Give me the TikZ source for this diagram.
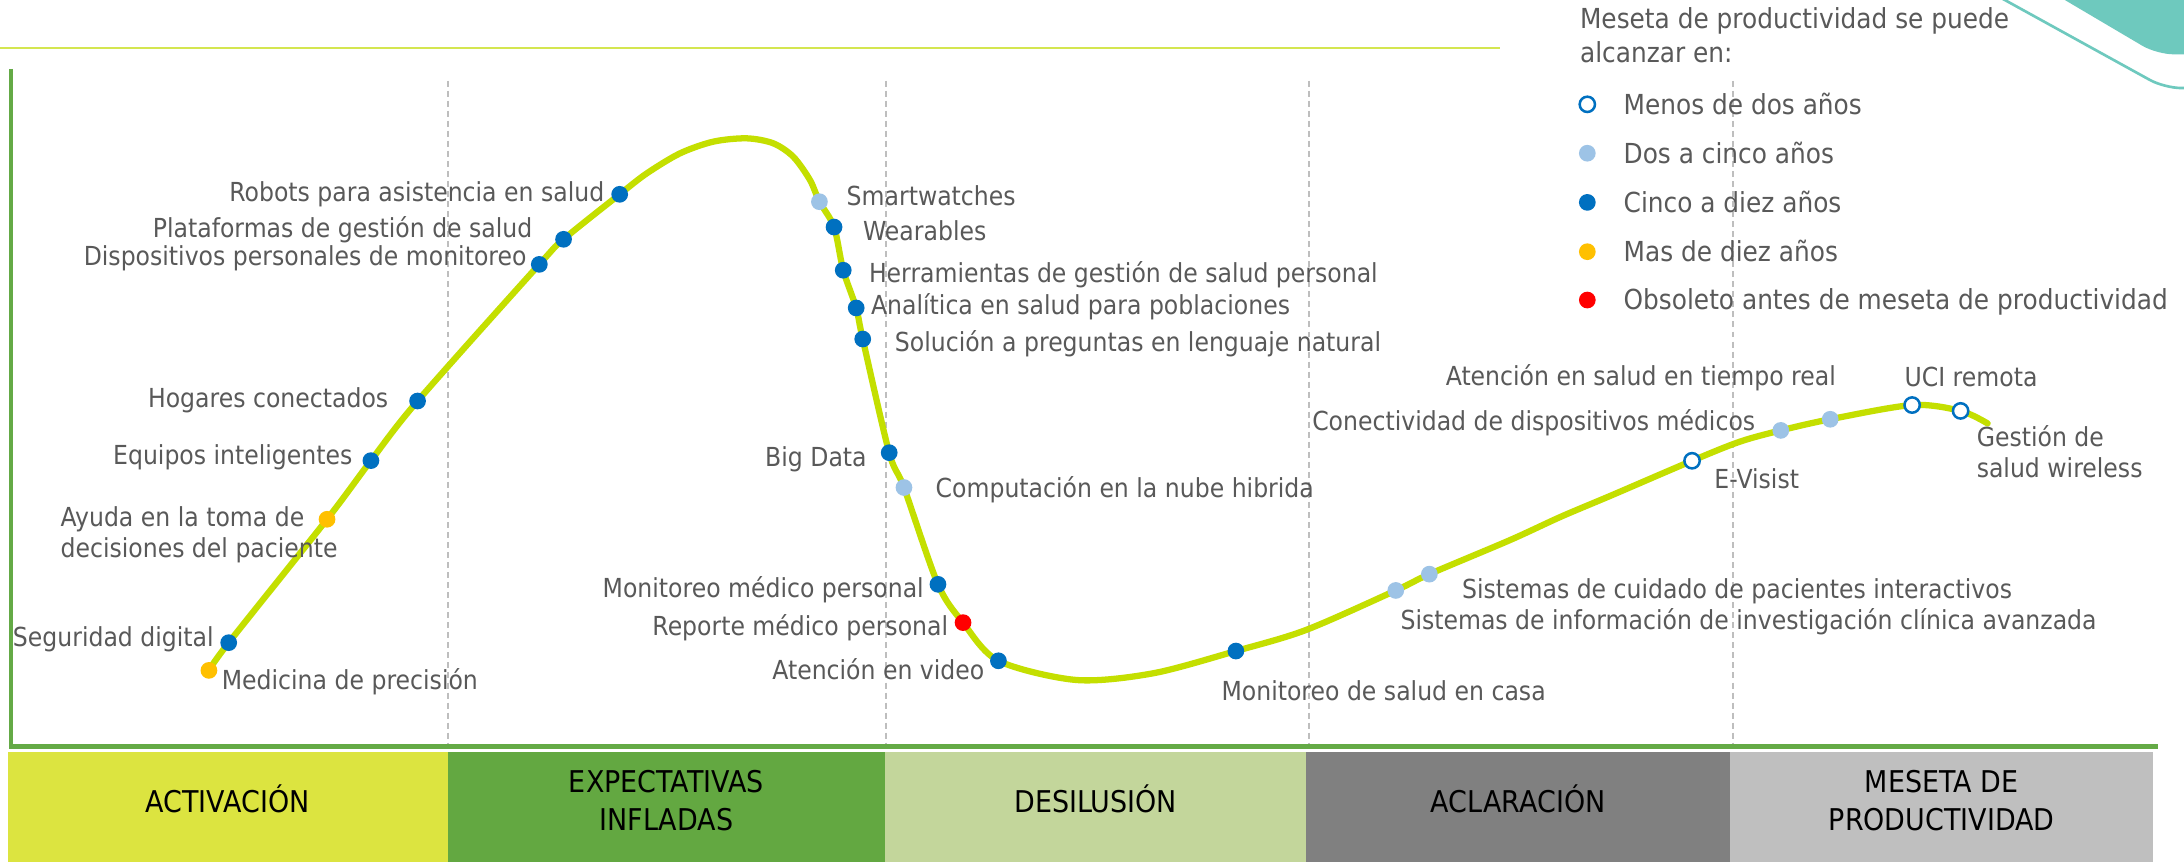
\documentclass[tikz,border=0pt]{standalone}
\usepackage{fontspec}
\setmainfont{DejaVu Sans}[FakeStretch=0.9]
\definecolor{curvec}{RGB}{196,223,0}
\definecolor{topline}{RGB}{212,230,80}
\definecolor{axisg}{RGB}{100,170,70}
\definecolor{dashg}{RGB}{190,190,190}
\definecolor{txt}{RGB}{89,89,89}
\definecolor{dblue}{RGB}{0,112,192}
\definecolor{lblue}{RGB}{157,195,230}
\definecolor{orng}{RGB}{255,192,0}
\definecolor{rred}{RGB}{255,0,0}
\definecolor{bandA}{RGB}{220,228,64}
\definecolor{bandB}{RGB}{99,168,65}
\definecolor{bandC}{RGB}{195,214,155}
\definecolor{bandD}{RGB}{128,128,128}
\definecolor{bandE}{RGB}{191,191,191}
\definecolor{tealc}{RGB}{110,201,190}
\begin{document}
\begin{tikzpicture}[x=1pt,y=-1pt,
  lab/.style={font=\fontsize{18.8}{22}\selectfont, text=txt, inner sep=0pt},
  leg/.style={font=\fontsize{19.8}{24.2}\selectfont, text=txt, inner sep=0pt},
  bandtxt/.style={font=\fontsize{21.5}{27.5}\selectfont, text=black, inner sep=0pt, align=center},
  dotbase/.style={circle, minimum size=12pt, inner sep=0pt},
  dotd/.style={dotbase, fill=dblue},
  dotl/.style={dotbase, fill=lblue},
  doto/.style={dotbase, fill=orng},
  dotr/.style={dotbase, fill=rred},
  doth/.style={circle, minimum size=11pt, inner sep=0pt, fill=white, draw=dblue, line width=1.8pt},
  dashv/.style={draw=dashg, line width=1.3pt, dash pattern=on 4.3pt off 2.9pt}
]
\useasboundingbox (0,0) rectangle (1568,619);
\clip (0,0) rectangle (1568,619);
\fill[white] (0,0) rectangle (1568,619);

% decoration top right
\fill[tealc, rounded corners=12pt] (1465.5,-10) -- (1548.5,39) -- (1600,39) -- (1600,-10) -- cycle;
\draw[tealc, line width=1.9pt, rounded corners=12pt] (1421.2,-10) -- (1554,63.2) -- (1600,63.2);

% top line
\draw[topline, line width=2pt] (0,34.5) -- (1077,34.5);

% dashed dividers
\foreach \xx in {321.5,636,939.6,1244}
  \draw[dashv] (\xx,58) -- (\xx,534);

% axes
\draw[axisg, line width=3pt] (8,49.5) -- (8,536) -- (1549,536);

% bands
\fill[bandA] (6,539.6) rectangle (321.3,619);
\fill[bandB] (321.3,539.6) rectangle (635.6,619);
\fill[bandC] (635.6,539.6) rectangle (937.6,619);
\fill[bandD] (937.6,539.6) rectangle (1242.3,619);
\fill[bandE] (1242.3,539.6) rectangle (1546,619);
\node[bandtxt, anchor=base] (bA) at (163.5,583.3) {ACTIVACIÓN};
\node[bandtxt, anchor=base] (bB) at (478.5,596.5) {EXPECTATIVAS\\INFLADAS};
\node[bandtxt, anchor=base] (bC) at (786.6,583.3) {DESILUSIÓN};
\node[bandtxt, anchor=base] (bD) at (1090,583.3) {ACLARACIÓN};
\node[bandtxt, anchor=base] (bE) at (1394,596.5) {MESETA DE\\PRODUCTIVIDAD};

% curve coordinates
\coordinate (p1) at (150,481.3);
\coordinate (p2) at (164.2,461.4);
\coordinate (p3) at (234.8,372.8);
\coordinate (p4) at (266.3,330.7);
\coordinate (p5) at (299.8,287.9);
\coordinate (p6) at (387.2,189.8);
\coordinate (p7) at (404.6,171.8);
\coordinate (p8) at (444.9,139.5);
\coordinate (c1) at (464.3,124.5);
\coordinate (c2) at (488.2,110.1);
\coordinate (c3) at (512.1,101.7);
\coordinate (c4) at (536,99.3);
\coordinate (c5) at (555.2,102.9);
\coordinate (c6) at (569.5,112.5);
\coordinate (c7) at (581.5,129.2);
\coordinate (p9) at (588.3,144.8);
\coordinate (p10) at (598.8,163);
\coordinate (p11) at (605.4,194);
\coordinate (p12) at (614.7,221.1);
\coordinate (p13) at (619.4,243.4);
\coordinate (p14) at (638.4,325);
\coordinate (p15) at (649,350);
\coordinate (p16) at (673.4,419.5);
\coordinate (p17) at (691.4,447);
\coordinate (p18) at (716.8,474.4);
\coordinate (c8) at (772.8,488.2);
\coordinate (c9) at (827.8,483.4);
\coordinate (p19) at (887.3,467.4);
\coordinate (c10) at (937.6,452.3);
\coordinate (p20) at (1002.1,423.9);
\coordinate (p21) at (1026.2,412.2);
\coordinate (c11) at (1084.2,387.7);
\coordinate (c12) at (1120.8,370.9);
\coordinate (c13) at (1157.5,355.4);
\coordinate (p22) at (1214.8,330.8);
\coordinate (c14) at (1249.1,317.1);
\coordinate (p23) at (1278.5,309);
\coordinate (p24) at (1314,301);
\coordinate (p25) at (1372.8,290.8);
\coordinate (p26) at (1407.6,295);
\coordinate (c15) at (1427,304);

\draw[curvec, line width=4.5pt, line cap=round] plot[smooth, tension=0.5] coordinates {(p1) (p2) (p3) (p4) (p5) (p6) (p7) (p8) (c1) (c2) (c3) (c4) (c5) (c6) (c7) (p9) (p10) (p11) (p12) (p13) (p14) (p15) (p16) (p17) (p18) (c8) (c9) (p19) (c10) (p20) (p21) (c11) (c12) (c13) (p22) (c14) (p23) (p24) (p25) (p26) (c15)};

% dots
\node[doto] (med) at (p1) {};
\node[dotd] (seg) at (p2) {};
\node[doto] (ayu) at (p3) {};
\node[dotd] (equ) at (p4) {};
\node[dotd] (hog) at (p5) {};
\node[dotd] (dis) at (p6) {};
\node[dotd] (pla) at (p7) {};
\node[dotd] (rob) at (p8) {};
\node[dotl] (sma) at (p9) {};
\node[dotd] (wea) at (p10) {};
\node[dotd] (her) at (p11) {};
\node[dotd] (ana) at (p12) {};
\node[dotd] (sol) at (p13) {};
\node[dotd] (big) at (p14) {};
\node[dotl] (com) at (p15) {};
\node[dotd] (mmp) at (p16) {};
\node[dotr] (rmp) at (p17) {};
\node[dotd] (vid) at (p18) {};
\node[dotd] (cas) at (p19) {};
\node[dotl] (sii) at (p20) {};
\node[dotl] (scp) at (p21) {};
\node[doth] (evi) at (p22) {};
\node[dotl] (con) at (p23) {};
\node[dotl] (atr) at (p24) {};
\node[doth] (uci) at (p25) {};
\node[doth] (ges) at (p26) {};

% labels
\node[lab, anchor=base east] (lrob) at (434,144.8) {Robots para asistencia en salud};
\node[lab, anchor=base east] (lpla) at (382.4,170.5) {Plataformas de gestión de salud};
\node[lab, anchor=base east] (ldis) at (378.2,190.3) {Dispositivos personales de monitoreo};
\node[lab, anchor=base east] (lhog) at (278.9,292.5) {Hogares conectados};
\node[lab, anchor=base east] (lequ) at (253.2,333.2) {Equipos inteligentes};
\node[lab, anchor=base west, align=left] (layu) at (43.3,400.2) {Ayuda en la toma de\\decisiones del paciente};
\node[lab, anchor=base east] (lseg) at (153.6,464.1) {Seguridad digital};
\node[lab, anchor=base west] (lmed) at (159.1,494.7) {Medicina de precisión};
\node[lab, anchor=base west] (lsma) at (607.7,147.2) {Smartwatches};
\node[lab, anchor=base west] (lwea) at (619.4,172.8) {Wearables};
\node[lab, anchor=base west] (lher) at (623.7,202.7) {Herramientas de gestión de salud personal};
\node[lab, anchor=base west] (lana) at (625.2,225.9) {Analítica en salud para poblaciones};
\node[lab, anchor=base west] (lsol) at (642.3,252) {Solución a preguntas en lenguaje natural};
\node[lab, anchor=base east] (lbig) at (622.4,334.8) {Big Data};
\node[lab, anchor=base west] (lcom) at (671.6,357.1) {Computación en la nube hibrida};
\node[lab, anchor=base east] (lmmp) at (663.4,428.9) {Monitoreo médico personal};
\node[lab, anchor=base east] (lrmp) at (680.9,456.4) {Reporte médico personal};
\node[lab, anchor=base east] (lvid) at (706.9,488) {Atención en video};
\node[lab, anchor=base west] (lcas) at (876.8,503.1) {Monitoreo de salud en casa};
\node[lab, anchor=base west] (lsii) at (1005.3,451.6) {Sistemas de información de investigación clínica avanzada};
\node[lab, anchor=base west] (lscp) at (1049.5,429.5) {Sistemas de cuidado de pacientes interactivos};
\node[lab, anchor=base west] (levi) at (1230.7,350.6) {E-Visist};
\node[lab, anchor=base east] (lcon) at (1260.3,309.2) {Conectividad de dispositivos médicos};
\node[lab, anchor=base east] (latr) at (1318.2,276.9) {Atención en salud en tiempo real};
\node[lab, anchor=base west] (luci) at (1367.2,277.6) {UCI remota};
\node[lab, anchor=base west, align=left] (lges) at (1419,342.7) {Gestión de\\salud wireless};

% legend
\node[leg, anchor=base west, align=left] (legt) at (1134.2,44.9) {Meseta de productividad se puede\\alcanzar en:};
\node[doth] (k1) at (1139.6,74.9) {};
\node[dotl] (k2) at (1139.6,110) {};
\node[dotd] (k3) at (1139.6,145.3) {};
\node[doto] (k4) at (1139.6,180.7) {};
\node[dotr] (k5) at (1139.6,215.4) {};
\node[leg, anchor=base west] (t1) at (1165.5,82) {Menos de dos años};
\node[leg, anchor=base west] (t2) at (1165.5,117.1) {Dos a cinco años};
\node[leg, anchor=base west] (t3) at (1165.5,152.4) {Cinco a diez años};
\node[leg, anchor=base west] (t4) at (1165.5,187.8) {Mas de diez años};
\node[leg, anchor=base west] (t5) at (1165.5,222.5) {Obsoleto antes de meseta de productividad};
\end{tikzpicture}
\end{document}
